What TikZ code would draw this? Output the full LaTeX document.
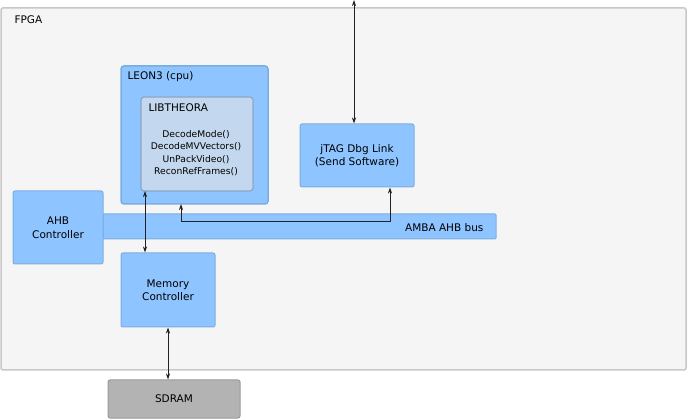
\documentclass[tikz,border=0pt]{standalone}
\usepackage{fontspec}
\setmainfont{DejaVu Sans}
\usetikzlibrary{arrows.meta}
\definecolor{fpgafill}{HTML}{F5F5F5}
\definecolor{fpgaline}{HTML}{C8C8C8}
\definecolor{blk}{HTML}{8EC4FF}
\definecolor{blkline}{HTML}{7BAEE0}
\definecolor{libfill}{HTML}{C3D8EE}
\definecolor{libline}{HTML}{8DA6C4}
\definecolor{sdfill}{HTML}{B3B3B3}
\definecolor{sdline}{HTML}{9A9A9A}
\definecolor{arr}{HTML}{222222}
\tikzset{
  blkbox/.style={draw=blkline, fill=blk, line width=1pt, rounded corners=2pt},
  txt/.style={font=\fontsize{10.5}{13.5}\selectfont, align=center, text=black},
  small/.style={font=\fontsize{9.2}{12.3}\selectfont, align=center, text=black},
  conn/.style={draw=arr, line width=0.8pt, {Stealth[length=6pt,width=4pt]}-{Stealth[length=6pt,width=4pt]}},
}
\begin{document}
\begin{tikzpicture}[x=1pt,y=-1pt]
\useasboundingbox (0,0) rectangle (688,419);
% FPGA
\draw[draw=fpgaline, fill=fpgafill, line width=1.5pt, rounded corners=2pt] (1,8) rectangle (686,370);
\node[txt, anchor=west] (fpga) at (11,20) {FPGA};
% LEON3
\draw[draw=blkline, fill=blk, line width=1.5pt, rounded corners=3pt] (121,66) rectangle (268,204);
\coordinate (leonbot) at (181,204);
\node[txt, anchor=west] (leon) at (124,77) {LEON3 (cpu)};
% LIBTHEORA
\draw[draw=libline, fill=libfill, line width=1.2pt, rounded corners=3pt] (141,97) rectangle (253,191);
\node[txt, anchor=west] (lib) at (145,108) {LIBTHEORA};
\node[small] (funcs) at (196,153) {DecodeMode()\\DecodeMVVectors()\\UnPackVideo()\\ReconRefFrames()};
\coordinate (libbot) at (145,191);
% jTAG
\node[blkbox, minimum width=114pt, minimum height=63pt, txt] (jtag) at (357,155.5) {jTAG Dbg Link\\(Send Software)};
\coordinate (top) at (354,0);
% bus
\node[draw=blkline, fill=blk, line width=1pt, rounded corners=1pt, minimum width=393pt, minimum height=25pt, inner sep=0pt] (bus) at (299.5,226.5) {};
\node[txt, anchor=east] (buslbl) at (487,228) {AMBA AHB bus};
% AHB controller
\node[blkbox, minimum width=90pt, minimum height=73pt, txt] (ahb) at (58,227.5) {AHB\\Controller};
% Memory controller
\node[blkbox, minimum width=94pt, minimum height=74pt, txt] (mem) at (168,290) {Memory\\Controller};
% SDRAM
\node[draw=sdline, fill=sdfill, line width=1pt, rounded corners=2pt, minimum width=132pt, minimum height=38pt, txt] (sdram) at (174,399) {SDRAM};
% connectors
\draw[conn] (top) -- (jtag.north -| top);
\draw[conn] (libbot) -- (libbot |- mem.north);
\draw[conn] (mem.south) -- (sdram.north -| mem.south);
\draw[conn, rounded corners=0pt] (leonbot) -- (181,221) -- (390,221) -- (jtag.south -| 390,0);
\end{tikzpicture}
\end{document}
